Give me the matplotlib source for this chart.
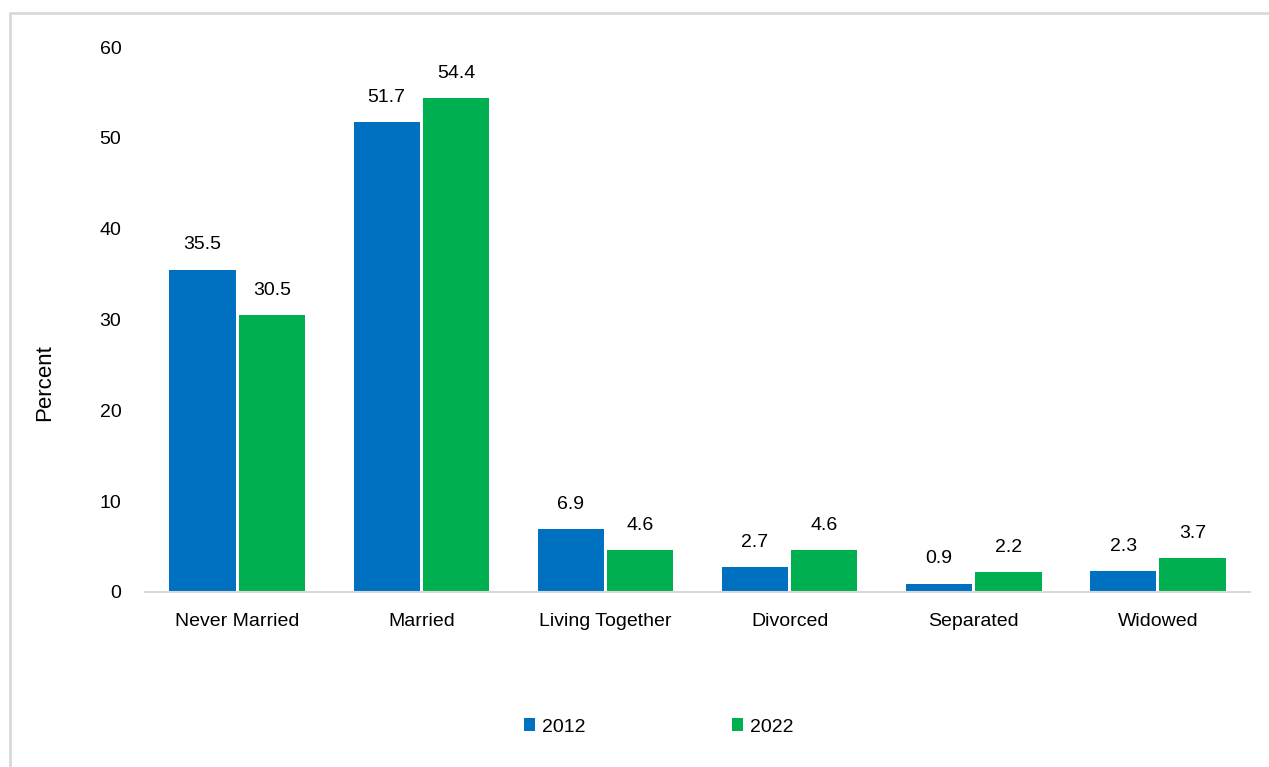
import numpy as np
import matplotlib.pyplot as plt
from matplotlib.patches import Rectangle

plt.rcParams['font.family'] = ['Liberation Sans', 'DejaVu Sans']

categorias = ["Never Married", "Married", "Living Together", "Divorced", "Separated", "Widowed"]
v2012 = [35.5, 51.7, 6.9, 2.7, 0.9, 2.3]
v2022 = [30.5, 54.4, 4.6, 4.6, 2.2, 3.7]
series = ["2012", "2022"]

azul = "#0070C0"
verde = "#00B050"

fig = plt.figure(figsize=(12.69, 7.67), dpi=100)
# borde gris (recortado a derecha y abajo)
fig.patches.append(Rectangle((10/1269, -0.1), 1.2, 1 - 13/767 + 0.1, transform=fig.transFigure,
                             fill=False, edgecolor="#D9D9D9", linewidth=2))
ax = fig.add_axes([0.1143, 0.2282, 0.8707, 0.7105])

x = np.arange(len(categorias))
w = 0.36
b1 = ax.bar(x - w/2 - 0.008, v2012, w, color=azul, label=series[0])
b2 = ax.bar(x + w/2 + 0.008, v2022, w, color=verde, label=series[1])

for barras in (b1, b2):
    for b in barras:
        ax.text(b.get_x() + b.get_width()/2, b.get_height() + 1.8, f"{b.get_height():.1f}",
                ha="center", va="bottom", fontsize=14)

ax.set_xlim(-0.5, len(categorias) - 0.5)
ax.set_ylim(0, 60)
ax.set_yticks(range(0, 61, 10))
ax.set_xticks(x)
ax.set_xticklabels(categorias)
ax.tick_params(axis="both", length=0, labelsize=14)
ax.tick_params(axis="x", pad=15)
ax.tick_params(axis="y", pad=17)
for s in ["top", "right", "left"]:
    ax.spines[s].set_visible(False)
ax.spines["bottom"].set_color("#D9D9D9")
ax.spines["bottom"].set_linewidth(1.5)

fig.text(45/1269, 1 - 383/767, "Percent", rotation=90, fontsize=16, ha="center", va="center")

fig.legend(loc="center", bbox_to_anchor=(0.519, 1 - 727/767), ncol=2, frameon=False,
           fontsize=14, handlelength=0.6, handleheight=0.6, handletextpad=0.35,
           columnspacing=7.5)

fig.savefig("out.png", dpi=100)
